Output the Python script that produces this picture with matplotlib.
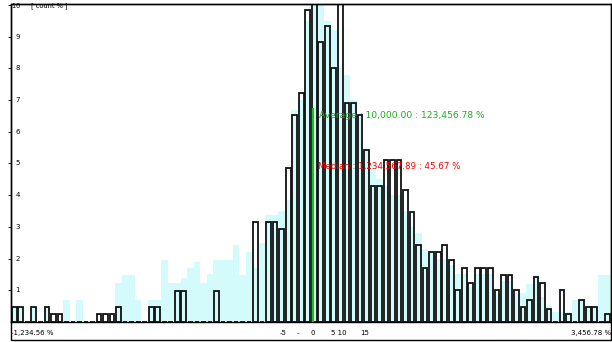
import matplotlib
matplotlib.use("Agg")
import matplotlib.pyplot as plt
from matplotlib.patches import Rectangle

# ---- data ----
bins = list(range(92))
cyan_vals = [0.47, 0.47, 0, 0.47, 0, 0.47, 0, 0, 0.69, 0, 0.69, 0, 0, 0, 0, 0,
             1.23, 1.48, 1.48, 0.69, 0, 0.69, 0.69, 1.96, 1.23, 1.23, 1.4, 1.7, 1.9, 1.23,
             1.5, 1.96, 1.96, 1.96, 2.43, 1.48, 2.2, 1.7, 2.5, 3.38, 3.38, 3.5, 3.85, 6.7,
             7.0, 9.5, 11.0, 11.0, 9.5, 9.2, 8.0, 7.8, 7.0, 6.5, 5.5, 5.0, 4.5, 4.3, 4.0, 4.0,
             3.5, 3.0, 2.8, 2.3, 2.2, 2.0, 2.0, 1.8, 1.5, 1.5, 1.1, 1.5, 1.5, 1.5, 0.9, 1.3,
             1.3, 0.9, 0.9, 1.2, 1.48, 0.8, 0.5, 0.3, 0.3, 0.3, 0.69, 0.69, 0.5, 0.5, 1.48, 1.48]
black_vals = [0.47, 0.47, 0, 0.47, 0, 0.47, 0.25, 0.25, 0, 0, 0, 0, 0, 0.25, 0.25, 0.25,
              0.47, 0, 0, 0, 0, 0.47, 0.47, 0, 0, 0.98, 0.98, 0, 0, 0,
              0, 0.98, 0, 0, 0, 0, 0, 3.15, 0, 3.15, 3.15, 2.93, 4.86, 6.53,
              7.22, 9.84, 11.0, 8.83, 9.34, 8.0, 11.0, 6.9, 6.9, 6.53, 5.43, 4.3, 4.3, 5.1, 5.1, 5.1,
              4.16, 3.47, 2.43, 1.7, 2.2, 2.2, 2.43, 1.96, 1.0, 1.7, 1.23, 1.7, 1.7, 1.7, 1.0, 1.48,
              1.48, 1.0, 0.47, 0.69, 1.42, 1.23, 0.4, 0, 1.0, 0.25, 0, 0.69, 0.47, 0.47, 0, 0.25]
ytick_vals = [1, 2, 3, 4, 5, 6, 7, 8, 9, 10]
ytick_labels = ["1", "2", "3", "4", "5", "6", "7", "8", "9", "10"]
xtick_pos = [0, 41.7, 44.0, 46.3, 50.3, 54.3, 92]
xtick_labels = ["-1,234.56 %", "-5", "-", "0", "5 10", "15", "3,456.78 %"]
avg_x = 46.3
avg_top = 6.75
green_text = "Average : 10,000.00 : 123,456.78 %"
red_text = "Median : 1,234,567.89 : 45.67 %"
corner_text = "10     [ count % ]"

W, H = 612, 342
fig = plt.figure(figsize=(W / 100, H / 100), dpi=100)
ax = fig.add_axes([11 / W, (H - 322) / H, 600 / W, 318 / H])

ax.bar(bins, cyan_vals, width=1.0, align="edge", color="#d4fbfb", edgecolor="none", zorder=1)
ax.bar([b + 0.14 for b in bins], black_vals, width=0.72, align="edge",
       facecolor="none", edgecolor="#111111", linewidth=1.3, zorder=2)
ax.vlines(avg_x, 0, avg_top, color="#22bb22", linewidth=1.6, zorder=3)
ax.text(avg_x + 1.0, 6.5, green_text, color="#22aa22", fontsize=6.6, va="center", ha="left", zorder=4)
ax.text(avg_x + 0.7, 4.9, red_text, color="red", fontsize=6.3, va="center", ha="left", zorder=4)

ax.set_xlim(0, 92)
ax.set_ylim(0, 10.03)
ax.set_yticks(ytick_vals)
ax.set_yticklabels([])
for v, lab in zip(ytick_vals[:-1], ytick_labels[:-1]):
    ax.text(0.7, v, lab, fontsize=5, va="center", ha="left")
ax.tick_params(axis="y", direction="out", length=2, width=0.6)
ax.set_xticks([])
for p, lab, ha in zip(xtick_pos, xtick_labels, ["left", "center", "center", "center", "center", "center", "right"]):
    ax.text(p, -0.25, lab, fontsize=5, va="top", ha=ha)
fig.text(12 / W, 1 - 6 / H, corner_text, fontsize=4.8, va="center", ha="left")

for s in ax.spines.values():
    s.set_linewidth(1.0)
fig.add_artist(Rectangle((11 / W, 2 / H), 600 / W, 336 / H, transform=fig.transFigure,
                         fill=False, edgecolor="black", linewidth=1.0))

fig.savefig("out.png", dpi=100)
